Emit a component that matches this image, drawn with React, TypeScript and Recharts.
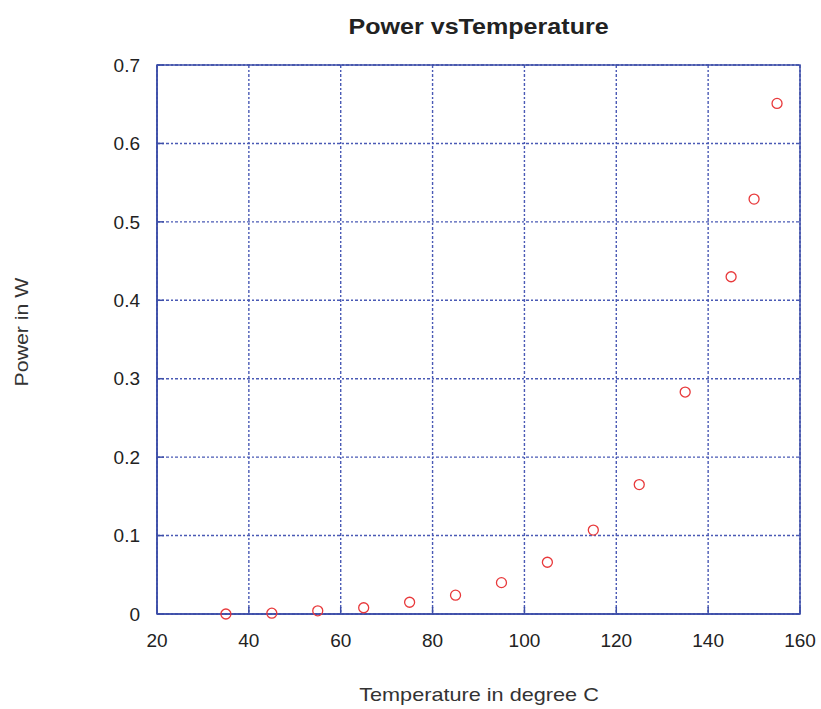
import { CartesianGrid, ReferenceArea, Scatter, ScatterChart, XAxis, YAxis } from 'recharts';

const temps = [35, 45, 55, 65, 75, 85, 95, 105, 115, 125, 135, 145, 150, 155];
const power = [0.0, 0.001, 0.004, 0.008, 0.015, 0.024, 0.04, 0.066, 0.107, 0.165, 0.283, 0.43, 0.529, 0.651];
const xTicks = [20, 40, 60, 80, 100, 120, 140, 160];
const yTicks = [0, 0.1, 0.2, 0.3, 0.4, 0.5, 0.6, 0.7];

const points = temps.map((t, i) => ({ t, p: power[i] }));

const blue = '#3d4ea8';
const gridBlue = '#4a5ab5';
const font = '"Liberation Sans", Arial, sans-serif';
const xMargin = 20;
const yMargin = 17;

const Ring = (props: any) => (
    <circle cx={props.cx} cy={props.cy} r={5} fill="none" stroke="#e8393b" strokeWidth={1.3} />
);

const Empty = () => <g />;

// bottom ticks: label below, short tick pointing up into the plot
const BottomTick = (props: any) => {
    const { x, y, payload } = props;
    const axisY = y - xMargin;
    return (
        <g>
            <line x1={x} x2={x} y1={axisY} y2={axisY - 7} stroke={blue} strokeWidth={1.5} />
            <text x={x} y={y} dy="0.71em" textAnchor="middle" fill="#222" fontSize={19} fontFamily={font}>
                {payload.value}
            </text>
        </g>
    );
};

// left ticks: label on the left, short tick pointing right into the plot
const LeftTick = (props: any) => {
    const { x, y, payload } = props;
    const axisX = x + yMargin;
    const v = payload.value as number;
    return (
        <g>
            <line x1={axisX} x2={axisX + 7} y1={y} y2={y} stroke={blue} strokeWidth={1.5} />
            <text x={x} y={y} dy="0.35em" textAnchor="end" fill="#222" fontSize={19} fontFamily={font}>
                {v === 0 ? '0' : v.toFixed(1)}
            </text>
        </g>
    );
};

export default function App() {
    return (
        <div style={{ position: 'absolute', left: 0, top: 0, width: 821, height: 709, background: '#fff', fontFamily: font }}>
            <ScatterChart width={821} height={709} margin={{ top: 65, right: 21, left: 0, bottom: 0 }}>
                <CartesianGrid xAxisId="b" yAxisId="l" stroke={gridBlue} strokeDasharray="3 2 2 2" strokeWidth={1.4} horizontalValues={yTicks} verticalValues={xTicks} />
                <XAxis xAxisId="b" type="number" dataKey="t" domain={[20, 160]} ticks={xTicks} height={95}
                    axisLine={{ stroke: blue, strokeWidth: 1.5 }} tickLine={false}
                    tickSize={0} tickMargin={xMargin} tick={BottomTick} />
                <XAxis xAxisId="top" orientation="top" type="number" dataKey="t" domain={[20, 160]} ticks={xTicks} height={0}
                    axisLine={{ stroke: blue, strokeWidth: 1.5 }} tickLine={{ stroke: blue, strokeWidth: 1.5 }}
                    mirror tickSize={7} tick={Empty} />
                <YAxis yAxisId="l" type="number" dataKey="p" domain={[0, 0.7]} ticks={yTicks} width={157}
                    axisLine={{ stroke: blue, strokeWidth: 1.5 }} tickLine={false}
                    tickSize={0} tickMargin={yMargin} tick={LeftTick} />
                <YAxis yAxisId="r" orientation="right" type="number" dataKey="p" domain={[0, 0.7]} ticks={yTicks} width={0}
                    axisLine={{ stroke: blue, strokeWidth: 1.5 }} tickLine={{ stroke: blue, strokeWidth: 1.5 }}
                    mirror tickSize={7} tick={Empty} />
                <ReferenceArea xAxisId="b" yAxisId="l" x1={20} x2={160} y1={0} y2={0.7} fill="none" stroke={blue} strokeWidth={1.5} />
                <Scatter data={points} xAxisId="top" yAxisId="r" shape={Empty} isAnimationActive={false} />
                <Scatter data={points} xAxisId="b" yAxisId="l" shape={Ring} isAnimationActive={false} />
            </ScatterChart>
            <div style={{ position: 'absolute', left: 0, width: 957, top: 14, textAlign: 'center', fontWeight: 'bold', fontSize: 22, color: '#222', transform: 'scaleX(1.14)', transformOrigin: '478px 0' }}>
                Power vsTemperature
            </div>
            <div style={{ position: 'absolute', left: 0, width: 958, top: 684, textAlign: 'center', fontSize: 19, color: '#333', transform: 'scaleX(1.14)', transformOrigin: '479px 0' }}>
                Temperature in degree C
            </div>
            <div style={{ position: 'absolute', left: 22, top: 332, transform: 'translate(-50%, -50%) rotate(-90deg) scaleX(1.15)', whiteSpace: 'nowrap', fontSize: 18.5, color: '#333' }}>
                Power in W
            </div>
        </div>
    );
}
